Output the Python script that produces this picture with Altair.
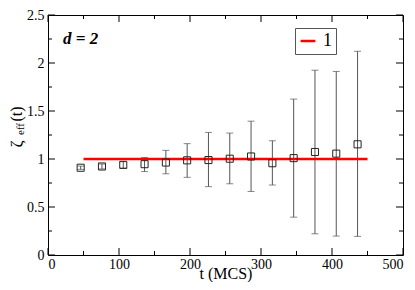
import altair as alt
import pandas as pd

# data
t = [46, 76, 106, 136, 166, 196, 226, 256, 286, 316, 346, 376, 406, 436]
zeta = [0.909, 0.922, 0.939, 0.946, 0.963, 0.986, 0.989, 1.003, 1.026, 0.956, 1.009, 1.073, 1.056, 1.153]
err_lo = [0.892, 0.897, 0.906, 0.869, 0.846, 0.809, 0.712, 0.742, 0.662, 0.729, 0.394, 0.221, 0.197, 0.194]
err_hi = [0.926, 0.947, 0.972, 1.016, 1.090, 1.160, 1.277, 1.270, 1.394, 1.190, 1.624, 1.925, 1.912, 2.122]
line_t = [50, 450]
line_v = [1.0, 1.0]
series_label = ["1", "1"]

x_major = [0, 100, 200, 300, 400, 500]
x_minor = [50, 150, 250, 350, 450]
y_major = [0, 0.5, 1.0, 1.5, 2.0, 2.5]
y_minor = [0.25, 0.75, 1.25, 1.75, 2.25]

W, H = 355, 240
FONT = "Liberation Serif"

pts = pd.DataFrame({"t": t, "z": zeta, "lo": err_lo, "hi": err_hi})
ln = pd.DataFrame({"t": line_t, "z": line_v, "s": series_label})

xs = alt.Scale(domain=[0, 500], nice=False, zero=False)
ys = alt.Scale(domain=[0, 2.5], nice=False, zero=False)

x_axis = alt.Axis(values=x_major, ticks=False, domain=False, grid=False, format="d",
                  labelFont=FONT, labelFontSize=14, labelPadding=2, labelColor="black",
                  title="t (MCS)", titleFont=FONT, titleFontSize=16, titleFontWeight="normal",
                  titleY=23, titleBaseline="alphabetic", titleColor="black")
y_axis = alt.Axis(values=y_major, ticks=False, domain=False, grid=False, format=".1~f",
                  labelFont=FONT, labelFontSize=14, labelPadding=4, labelColor="black",
                  title=None)

base = alt.Chart(pts)

bars = base.mark_rule(color="#555", strokeWidth=1).encode(
    x=alt.X("t:Q", scale=xs, axis=x_axis),
    y=alt.Y("lo:Q", scale=ys, axis=y_axis),
    y2="hi:Q",
)
cap_lo = base.mark_tick(color="#555", orient="horizontal", size=7, thickness=1).encode(
    x=alt.X("t:Q", scale=xs), y=alt.Y("lo:Q", scale=ys))
cap_hi = base.mark_tick(color="#555", orient="horizontal", size=7, thickness=1).encode(
    x=alt.X("t:Q", scale=xs), y=alt.Y("hi:Q", scale=ys))

redline = alt.Chart(ln).mark_line(strokeWidth=2.5).encode(
    x=alt.X("t:Q", scale=xs),
    y=alt.Y("z:Q", scale=ys),
    color=alt.Color("s:N", scale=alt.Scale(domain=["1"], range=["#ff0000"]),
                    legend=alt.Legend(title=None, orient="none", legendX=247, legendY=13,
                                      strokeColor="#555", fillColor="white", padding=4,
                                      symbolType="stroke", symbolStrokeWidth=2.5,
                                      symbolSize=220, labelFont=FONT, labelFontSize=18,
                                      labelColor="black", labelOffset=6)),
)

squares = base.mark_point(shape="square", size=50, filled=False, color="#222",
                          strokeWidth=1, opacity=1).encode(
    x=alt.X("t:Q", scale=xs), y=alt.Y("z:Q", scale=ys))

def xticks(vals, length):
    d = alt.Chart(pd.DataFrame({"v": vals}))
    b = d.mark_rule(color="black", strokeWidth=1).encode(
        x=alt.X("v:Q", scale=xs), y=alt.value(H), y2=alt.value(H - length))
    tp = d.mark_rule(color="black", strokeWidth=1).encode(
        x=alt.X("v:Q", scale=xs), y=alt.value(0), y2=alt.value(length))
    return b + tp

def yticks(vals, length):
    d = alt.Chart(pd.DataFrame({"v": vals}))
    l = d.mark_rule(color="black", strokeWidth=1).encode(
        y=alt.Y("v:Q", scale=ys), x=alt.value(0), x2=alt.value(length))
    r = d.mark_rule(color="black", strokeWidth=1).encode(
        y=alt.Y("v:Q", scale=ys), x=alt.value(W), x2=alt.value(W - length))
    return l + r

ticks = xticks(x_major, 7) + xticks(x_minor, 4) + yticks(y_major, 7) + yticks(y_minor, 4)

one = alt.Chart(pd.DataFrame({"a": [0]}))
dlabel = one.mark_text(text="d = 2", font=FONT, fontSize=17, fontStyle="italic",
                       fontWeight="bold", align="left", baseline="alphabetic",
                       color="black").encode(x=alt.value(15), y=alt.value(29))
ytitle_z = one.mark_text(text="ζ", font=FONT, fontSize=17, angle=270, align="center",
                         baseline="middle", color="black").encode(x=alt.value(-31), y=alt.value(129))
ytitle_e = one.mark_text(text="eff", font=FONT, fontSize=11, angle=270, align="center",
                         baseline="middle", color="black").encode(x=alt.value(-27), y=alt.value(114))
ytitle_t = one.mark_text(text="(t)", font=FONT, fontSize=16, angle=270, align="center",
                         baseline="middle", color="black").encode(x=alt.value(-31), y=alt.value(99))

chart = alt.layer(bars, cap_lo, cap_hi, redline, squares, ticks, dlabel,
                  ytitle_z, ytitle_e, ytitle_t).properties(
    width=W, height=H,
    autosize=alt.AutoSizeParams(type="none"),
    padding={"left": 40, "top": 7, "right": 3, "bottom": 27},
    background="white",
).configure_view(stroke="black", strokeWidth=1).configure_axis(
    labelFont=FONT, titleFont=FONT
).configure_text(font=FONT).configure_legend(labelFont=FONT)

chart.save("out.html", embed_options={"renderer": "svg", "actions": False})
